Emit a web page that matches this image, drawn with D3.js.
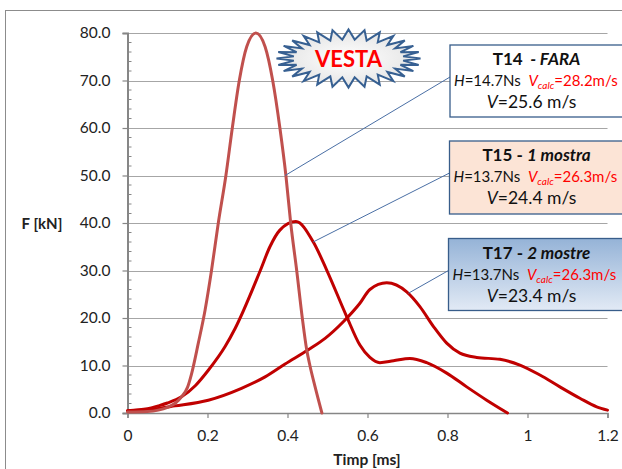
<!DOCTYPE html>
<html>
<head>
<meta charset="utf-8">
<script src="https://cdn.jsdelivr.net/npm/d3@7"></script>
<style>
  html, body { margin: 0; padding: 0; background: #fff; }
  svg { display: block; font-family: Lato, "Open Sans", sans-serif; }
  text { white-space: pre; }
</style>
</head>
<body>
<svg id="chart" width="622" height="469"></svg>
<script>
// ---------- data ----------
const t14T = [0, 0.05, 0.077, 0.10, 0.12, 0.135, 0.15, 0.16, 0.177, 0.194, 0.21, 0.227, 0.246, 0.262, 0.2795, 0.298, 0.321, 0.344, 0.363, 0.381, 0.396, 0.408, 0.423, 0.437, 0.448, 0.456, 0.469, 0.486];
const t14F = [0.2, 0.3, 0.6, 1.2, 2.1, 3.4, 5.4, 8.2, 14.7, 21.7, 30, 40, 50, 60, 70, 77.1, 80, 77.1, 70, 60, 50, 40, 30, 20, 13.3, 10, 5.5, 0];

const t15T = [0, 0.05, 0.077, 0.10, 0.135, 0.17, 0.202, 0.244, 0.269, 0.332, 0.356, 0.381, 0.421, 0.4645, 0.498, 0.548, 0.581, 0.606, 0.631, 0.665, 0.706, 0.748, 0.798, 0.848, 0.898, 0.95];
const t15F = [0.5, 0.9, 1.5, 2.1, 3.4, 5.8, 9.0, 14.0, 17.8, 30.0, 35.0, 38.5, 40.3, 36.0, 30.1, 20.3, 14.3, 11.7, 10.6, 11.0, 11.5, 10.6, 8.4, 5.5, 2.7, 0];

const t17T = [0, 0.05, 0.119, 0.202, 0.285, 0.344, 0.394, 0.452, 0.494, 0.5395, 0.581, 0.606, 0.648, 0.698, 0.731, 0.765, 0.798, 0.831, 0.873, 0.931, 0.981, 1.031, 1.081, 1.131, 1.173, 1.2];
const t17F = [0.5, 0.7, 1.5, 2.7, 5.2, 7.6, 10.3, 13.3, 15.7, 19.2, 23.1, 26.0, 27.4, 25.5, 22.4, 18.2, 14.7, 12.6, 11.7, 11.3, 10.1, 8.0, 5.5, 3.1, 1.3, 0.6];

const yTicks = [0, 10, 20, 30, 40, 50, 60, 70, 80];
const xTicks = [0, 0.2, 0.4, 0.6, 0.8, 1.0, 1.2];
const xTickLabels = ["0", "0.2", "0.4", "0.6", "0.8", "1", "1.2"];

const legendTitles = [["T14", "  - FARA"], ["T15 - ", "1 mostra"], ["T17 - ", "2 mostre"]];
const legendH = ["14.7", "13.7", "13.7"];
const legendVcalc = ["28.2", "26.3", "26.3"];
const legendV = ["25.6", "24.4", "23.4"];
// point on each curve where the leader line ends (t, F)
const leaderT = [0.394, 0.464, 0.702];
const leaderF = [50, 36, 25.2];

// ---------- drawing ----------
const svg = d3.select("#chart");
const x = d3.scaleLinear().domain([0, 1.2]).range([127.5, 607.5]);
const y = d3.scaleLinear().domain([0, 80]).range([413, 33]);

// outer chart border
svg.append("rect").attr("x", 5.5).attr("y", 10.5).attr("width", 640).attr("height", 480)
  .attr("fill", "none").attr("stroke", "#8c8c8c").attr("stroke-width", 1);

const defs = svg.append("defs");
const g3 = defs.append("linearGradient").attr("id", "g3").attr("x1", 0).attr("y1", 0).attr("x2", 0).attr("y2", 1);
g3.append("stop").attr("offset", "0%").attr("stop-color", "#95b3d7");
g3.append("stop").attr("offset", "100%").attr("stop-color", "#e2eaf5");
const rg = defs.append("radialGradient").attr("id", "star");
rg.append("stop").attr("offset", "0%").attr("stop-color", "#ffffff");
rg.append("stop").attr("offset", "100%").attr("stop-color", "#e4e4e4");

// gridlines
svg.append("g").selectAll("line").data(yTicks.filter(d => d > 0)).join("line")
  .attr("x1", x(0)).attr("x2", x(1.2))
  .attr("y1", d => Math.round(y(d)) + 0.5).attr("y2", d => Math.round(y(d)) + 0.5)
  .attr("stroke", "#a6a6a6").attr("stroke-width", 1.2);

// y axis
const yAxis = d3.axisLeft(y).tickValues(yTicks).tickFormat(d3.format(".1f")).tickSize(5).tickPadding(12);
const ya = svg.append("g").attr("transform", `translate(${x(0)},0)`).call(yAxis);
ya.select(".domain").attr("stroke", "#868686").attr("stroke-width", 2);
ya.selectAll(".tick line").attr("stroke", "#868686").attr("stroke-width", 1.2);
ya.selectAll(".tick text").attr("font-size", 15.5).attr("fill", "#222").attr("font-family", "Lato, sans-serif");
// minor ticks (inside)
const minor = d3.range(0, 80.01, 2).filter(d => d % 10 !== 0);
svg.append("g").selectAll("line").data(minor).join("line")
  .attr("x1", x(0)).attr("x2", x(0) + 4)
  .attr("y1", d => y(d)).attr("y2", d => y(d))
  .attr("stroke", "#868686").attr("stroke-width", 1);

// x axis
const xAxis = d3.axisBottom(x).tickValues(xTicks).tickFormat((d, i) => xTickLabels[i]).tickSize(5).tickPadding(12);
const xa = svg.append("g").attr("transform", `translate(0,${y(0)})`).call(xAxis);
xa.select(".domain").attr("stroke", "#868686").attr("stroke-width", 1.5);
xa.selectAll(".tick line").attr("stroke", "#868686").attr("stroke-width", 1.2);
xa.selectAll(".tick text").attr("font-size", 15.5).attr("fill", "#222").attr("font-family", "Lato, sans-serif");

// axis titles
svg.append("text").attr("x", 367).attr("y", 465).attr("text-anchor", "middle")
  .attr("font-size", 15.5).attr("font-weight", "bold").attr("fill", "#222").text("Timp [ms]");
svg.append("text").attr("x", 42).attr("y", 229).attr("text-anchor", "middle")
  .attr("font-size", 15).attr("font-weight", "bold").attr("fill", "#222").text("F [kN]");

// curves
const line = d3.line().x(d => x(d[0])).y(d => y(d[1])).curve(d3.curveMonotoneX);
const series = [
  { T: t17T, F: t17F, color: "#c00000" },
  { T: t15T, F: t15F, color: "#c00000" },
  { T: t14T, F: t14F, color: "#c0504d" }
];
series.forEach(s => {
  svg.append("path").datum(s.T.map((t, i) => [t, s.F[i]]))
    .attr("d", line).attr("fill", "none").attr("stroke", s.color)
    .attr("stroke-width", 3).attr("stroke-linejoin", "round").attr("stroke-linecap", "round");
});

// starburst "VESTA"
const cx = 348.5, cy = 58.5, N = 28;
const pts = [];
for (let i = 0; i < 2 * N; i++) {
  const a = Math.PI * i / N;
  const outer = i % 2 === 0;
  const rx = outer ? 72 : 55, ry = outer ? 29 : 19;
  pts.push([cx + rx * Math.cos(a), cy + ry * Math.sin(a)]);
}
svg.append("path").attr("d", d3.line()(pts) + "Z")
  .attr("fill", "url(#star)").attr("stroke", "#376092").attr("stroke-width", 2).attr("stroke-linejoin", "miter");
svg.append("text").attr("x", cx).attr("y", cy + 8).attr("text-anchor", "middle")
  .attr("font-size", 22).attr("font-weight", "bold").attr("fill", "#ff0000").text("VESTA");

// legend boxes
const boxes = [
  { top: 45, h: 72, fill: "#ffffff", left: 450 },
  { top: 141, h: 73, fill: "#fce4d6", left: 449.5 },
  { top: 238.5, h: 72, fill: "url(#g3)", left: 448.5 }
];
boxes.forEach((b, i) => {
  // leader line
  svg.append("line")
    .attr("x1", b.left).attr("y1", b.top + 32)
    .attr("x2", x(leaderT[i])).attr("y2", y(leaderF[i]))
    .attr("stroke", "#4a6fa5").attr("stroke-width", 1);
  svg.append("rect").attr("x", b.left).attr("y", b.top).attr("width", 190).attr("height", b.h)
    .attr("fill", b.fill).attr("stroke", "#385d8a").attr("stroke-width", 1.3);
  const cxb = 536.5;
  const t1 = svg.append("text").attr("x", cxb).attr("y", b.top + 20).attr("text-anchor", "middle")
    .attr("font-size", 17).attr("font-weight", "bold").attr("fill", "#111");
  t1.append("tspan").text(legendTitles[i][0]);
  t1.append("tspan").attr("font-style", "italic").text(legendTitles[i][1]);

  const t2 = svg.append("text").attr("x", b.left + 4).attr("y", b.top + 41)
    .attr("font-size", 15).attr("fill", "#111");
  t2.append("tspan").attr("font-style", "italic").text("H");
  t2.append("tspan").text("=" + legendH[i] + "Ns  ");
  t2.append("tspan").attr("font-style", "italic").attr("fill", "#ff0000").text("V");
  t2.append("tspan").attr("font-style", "italic").attr("fill", "#ff0000").attr("font-size", 10).attr("dy", 3).text("calc");
  t2.append("tspan").attr("fill", "#ff0000").attr("dy", -3).text("=" + legendVcalc[i] + "m/s");

  const t3 = svg.append("text").attr("x", cxb - 5).attr("y", b.top + 63).attr("text-anchor", "middle")
    .attr("font-size", 17.5).attr("fill", "#111");
  t3.append("tspan").attr("font-style", "italic").text("V");
  t3.append("tspan").text("=" + legendV[i] + " m/s");
});
</script>
</body>
</html>
